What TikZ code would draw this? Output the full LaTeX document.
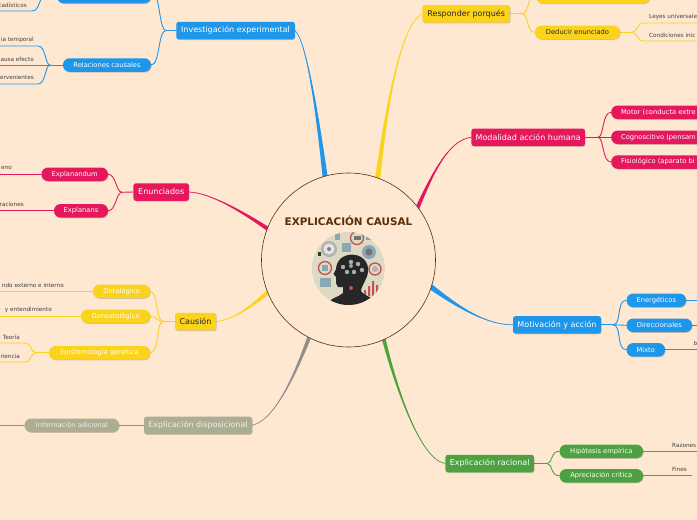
\documentclass[tikz,border=0pt]{standalone}
\usepackage{fontspec}
\setmainfont{DejaVu Sans}
\usetikzlibrary{calc,backgrounds,shadows}
\definecolor{bgc}{HTML}{FEE8D2}
\definecolor{bluec}{HTML}{1E96EA}
\definecolor{yelc}{HTML}{FBD31B}
\definecolor{pinkc}{HTML}{E5185E}
\definecolor{greenc}{HTML}{4CA240}
\definecolor{olivec}{HTML}{ADAD93}
\definecolor{grayc}{HTML}{8F8F8F}
\definecolor{brownc}{HTML}{5A2E08}
\definecolor{slatec}{HTML}{8AA8B4}
\definecolor{redc}{HTML}{C8514F}
\definecolor{beigec}{HTML}{DCD9C5}
\tikzset{
  shade1/.style={drop shadow={shadow xshift=0.6pt,shadow yshift=-0.8pt,opacity=.18,fill=black}},
  main/.style={draw=none,fill=#1,rounded corners=2.5pt,inner sep=0pt,font=\fontsize{8}{10}\selectfont,text=white,shade1,minimum height=17.5pt},
  sub/.style={draw=none,fill=#1,rounded corners=6.5pt,inner sep=0pt,font=\fontsize{6.7}{8}\selectfont,text=white,shade1,minimum height=13.5pt},
  subtext/.style={font=\fontsize{6.7}{8}\selectfont,text=white,inner sep=0pt,anchor=west},
  leaf/.style={font=\fontsize{5.7}{6}\selectfont,text=black!75,inner sep=0pt},
  link/.style={draw=#1,line width=.9pt,line cap=round},
}
\newcommand{\taper}[6]{%
  \fill[#1] ($(#2)+#3$) .. controls ($#4+0.45*#3$) and #5 .. (#6) .. controls #5 and ($#4-0.45*#3$) .. ($(#2)-#3$) -- cycle;
  \draw[#1,line width=.7pt] (#2) .. controls #4 and #5 .. (#6);}
\begin{document}
\begin{tikzpicture}[x=1pt,y=-1pt]
\useasboundingbox (0,0) rectangle (697,520);
% root
\node[circle,draw=brownc,line width=.6pt,fill=bgc,minimum size=174pt,inner sep=0pt] (root) at (348.5,260) {};
\node[font=\fontsize{10.4}{11}\selectfont\bfseries,text=brownc,inner sep=0pt] (title) at (348.5,221) {EXPLICACIÓN CAUSAL};
% picture
\begin{scope}
\clip (348.5,268.5) circle (36.5);
\fill[beigec] (348.5,268.5) circle (36.5);
\fill[gray!60] (329,249) circle (8); \fill[white!80!gray] (329,249) circle (5.5); \fill[gray] (329,249) circle (2);
\draw[redc,line width=1.3pt] (357,238) circle (6.5);\fill[black!55] (353.5,236) rectangle (360.5,240);
\fill[slatec] (369,252) circle (7);\fill[black!55] (369,252) circle (3.5);
\fill[slatec] (342,243) rectangle (351,252);
\fill[slatec] (335,233) rectangle (340,240);
\fill[slatec] (366,232) rectangle (374,240);
\draw[redc,line width=1.3pt] (325,268) circle (6.5);\fill[slatec] (322,265) rectangle (328,271);
\draw[redc,line width=1.3pt] (375,269) circle (6);\fill[gray!60] (375,269) circle (3);
\fill[slatec] (320,278) rectangle (331,287);
\fill[black!80] (318,252) rectangle (321,256);
\fill[redc] (364,290) rectangle (366,296) (368,286) rectangle (370,296) (372,281) rectangle (374,296) (376,285) rectangle (378,296);
\fill[black!85] (326,306) .. controls (330,297) and (338,298) .. (343,293) -- (343,287) -- (338,287) -- (336,283) -- (336,277) -- (333.5,274) -- (336,269)
  .. controls (337,250) and (366,250) .. (368,268) .. controls (369,278) and (362,283) .. (361,291) .. controls (365,297) and (375,297) .. (380,306) -- cycle;
\fill[gray!65] (351,262) circle (2.2) (343,267) circle (2.2) (358,264) circle (2.2) (347,272) circle (2.2) (354,272) circle (2.2) (362,270) circle (2.2);
\fill[slatec] (351,266) circle (2);
\fill[redc] (351,288) circle (2);
\end{scope}
% main branches
\node[main=bluec,minimum width=118.5pt] (inv) at (235.5,30.5) {Investigación experimental};
\node[sub=bluec,minimum width=94pt] (topb) at (104,-3.5) {};
\node[sub=bluec,minimum width=88pt] (rel) at (107,65) {Relaciones causales};
\node[main=pinkc,minimum width=55.5pt] (enu) at (161.2,192) {Enunciados};
\node[sub=pinkc,minimum width=66.5pt] (expd) at (74.7,174.3) {Explanandum};
\node[sub=pinkc,minimum width=54pt] (exps) at (81,210.8) {Explanans};
\node[main=yelc,minimum width=41pt,text=black!85] (cau) at (195.5,321.5) {Causión};
\node[sub=yelc,minimum width=57pt] (ont) at (121.5,291.3) {Ontológica};
\node[sub=yelc,minimum width=69pt] (gen) at (115.5,316.3) {Genostológica};
\node[sub=yelc,minimum width=101pt] (epi) at (99.5,352.8) {Epistemología genética};
\node[main=olivec,minimum width=108pt,text=white!80!olivec] (dis) at (198,425.3) {Explicación disposicional};
\node[sub=olivec,minimum width=94.5pt,text=white!80!olivec] (inf) at (71.8,425.3) {Información adicional};
\node[main=yelc,minimum width=87.5pt,text=black!85] (res) at (466.2,13.8) {Responder porqués};
\node[sub=yelc,minimum width=114pt] (topy) at (593,-3.5) {};
\node[sub=yelc,minimum width=85pt,text=black!85] (ded) at (577.5,32.3) {Deducir enunciado};
\node[main=pinkc,minimum width=113.5pt] (mod) at (528.2,137.3) {Modalidad acción humana};
\node[sub=pinkc,minimum width=110pt,anchor=west] (mot) at (611,112.3) {};
\node[sub=pinkc,minimum width=110pt,anchor=west] (cog) at (611,137.3) {};
\node[sub=pinkc,minimum width=110pt,anchor=west] (fis) at (611,162) {};
\node[subtext] (mott) at (621,112.3) {Motor (conducta extre};
\node[subtext] (cogt) at (621,137.3) {Cognoscitivo (pensam};
\node[subtext] (fist) at (621,162) {Fisiológico (aparato bi};
\node[main=bluec,minimum width=88pt] (mov) at (557,324.8) {Motivación y acción};
\node[sub=bluec,minimum width=59.5pt] (ene) at (656.3,300.3) {Energéticos};
\node[sub=bluec,minimum width=65.5pt] (dir) at (659.3,325.3) {Direccionales};
\node[sub=bluec,minimum width=38.5pt] (mix) at (645.8,349.8) {Mixto};
\node[main=greenc,minimum width=88.5pt] (rac) at (489.7,463.5) {Explicación racional};
\node[sub=greenc,minimum width=83.5pt] (hip) at (601.3,451.3) {Hipótesis empírica};
\node[sub=greenc,minimum width=83.5pt] (apr) at (601.3,475.8) {Apreciación crítica};
% leaves
\node[leaf,anchor=east] (l1) at (27,5) {cadísticos};
\node[leaf,anchor=east] (l2) at (34,40) {ia temporal};
\node[leaf,anchor=east] (l3) at (34,59) {ausa efecto};
\node[leaf,anchor=east] (l4) at (34,77) {ervenientes};
\node[leaf,anchor=east] (l5) at (12,168) {eno};
\node[leaf,anchor=east] (l6) at (24,204) {raciones};
\node[leaf,anchor=east] (l7) at (64,285) {ndo externo e interno};
\node[leaf,anchor=east] (l8) at (52,310) {y entendimiento};
\node[leaf,anchor=east] (l9) at (20,337) {Teoría};
\node[leaf,anchor=east] (l10) at (20,356) {riencia};
\node[leaf,anchor=west] (l11) at (649,17) {Leyes universale};
\node[leaf,anchor=west] (l12) at (649,35) {Condiciones inic};
\node[leaf,anchor=west] (l13) at (672,445) {Razones};
\node[leaf,anchor=west] (l14) at (672,469) {Fines};
\node[leaf,anchor=west] (l15) at (693.5,343) {b};
% free ends
\coordinate (e1) at (0,11); \coordinate (e2) at (0,46); \coordinate (e3) at (0,65); \coordinate (e4) at (0,84);
\coordinate (e5) at (0,174.3); \coordinate (e6) at (0,210.8); \coordinate (e7) at (0,291.3); \coordinate (e8) at (0,316.3);
\coordinate (e9) at (0,343); \coordinate (e10) at (0,362); \coordinate (e11) at (0,425.3);
\coordinate (e12) at (697,23); \coordinate (e13) at (697,41); \coordinate (e14) at (697,300.3); \coordinate (e15) at (697,325.3);
\coordinate (e16) at (697,349.8); \coordinate (e17) at (697,451.3); \coordinate (e18) at (692,475.8);
\coordinate (jr) at (50,65); \coordinate (ji) at (166,30.5); \coordinate (je) at (122,192.3); \coordinate (jc) at (163,321.5);
\coordinate (jep) at (36,352.8); \coordinate (jres) at (522,13.8); \coordinate (jded) at (632,32.3);
\coordinate (jm) at (598,137.3); \coordinate (jv) at (613,324.8); \coordinate (jrc) at (547,463.5);
\begin{scope}[on background layer]
\fill[bgc] (0,0) rectangle (697,520);
% tapered
\taper{bluec}{$(root)+(-23,-80)$}{(2.6,0)}{(317,110)}{(306,40)}{inv.east}
\taper{yelc}{$(root)+(29,-80)$}{(2.6,0)}{(386,110)}{(400,25)}{res.west}
\taper{pinkc}{$(root)+(68,-50)$}{(1.9,.9)}{(432,175)}{(448,140)}{mod.west}
\taper{bluec}{$(root)+(80,25)$}{(-1.2,2.6)}{(455,305)}{(485,325)}{mov.west}
\taper{greenc}{$(root)+(34,74)$}{(1.9,-.6)}{(395,385)}{(420,460)}{rac.west}
\taper{grayc}{$(root)+(-38,74)$}{(1.9,.8)}{(295,375)}{(275,420)}{dis.east}
\taper{yelc}{$(root)+(-78,30)$}{(1,2.1)}{(250,308)}{(232,320)}{cau.east}
\taper{pinkc}{$(root)+(-76,-28)$}{(-1,2)}{(240,210)}{(210,193)}{enu.east}
% hierarchy
\draw[link=bluec] (inv.west) -- (ji);
\draw[link=bluec] (ji) .. controls (160,30.5) and (160,3) .. (155,-6);
\draw[link=bluec] (ji) .. controls (158,30.5) and (160,65) .. (rel.east);
\draw[link=bluec] (rel.west) -- (jr);
\draw[link=bluec] (jr) .. controls (45,65) and (46,46) .. (38,46) -- (e2);
\draw[link=bluec] (jr) -- (e3);
\draw[link=bluec] (jr) .. controls (45,65) and (46,84) .. (38,84) -- (e4);
\draw[link=bluec] (42,-3) .. controls (38,5) and (38,11) .. (32,11) -- (e1);
\draw[link=pinkc] (enu.west) -- (je);
\draw[link=pinkc] (je) .. controls (116,192.3) and (116,174.3) .. (expd.east);
\draw[link=pinkc] (je) .. controls (116,192.3) and (116,210.8) .. (exps.east);
\draw[link=pinkc] (expd.west) -- (e5);
\draw[link=pinkc] (exps.west) -- (e6);
\draw[link=yelc] (cau.west) -- (jc);
\draw[link=yelc] (jc) .. controls (156,321.5) and (158,291.3) .. (ont.east);
\draw[link=yelc] (jc) .. controls (158,321.5) and (156,316.3) .. (gen.east);
\draw[link=yelc] (jc) .. controls (156,321.5) and (160,352.8) .. (epi.east);
\draw[link=yelc] (ont.west) -- (e7);
\draw[link=yelc] (gen.west) -- (e8);
\draw[link=yelc] (epi.west) -- (jep);
\draw[link=yelc] (jep) .. controls (30,352.8) and (32,343) .. (25,343) -- (e9);
\draw[link=yelc] (jep) .. controls (30,352.8) and (32,362) .. (25,362) -- (e10);
\draw[link=grayc] (dis.west) -- (inf.east);
\draw[link=grayc] (inf.west) -- (e11);
\draw[link=yelc] (res.east) -- (jres);
\draw[link=yelc] (jres) .. controls (528,13.8) and (528,0) .. (532,-4);
\draw[link=yelc] (jres) .. controls (529,13.8) and (526,32.3) .. (ded.west);
\draw[link=yelc] (ded.east) -- (jded);
\draw[link=yelc] (jded) .. controls (638,32.3) and (636,23) .. (644,23) -- (e12);
\draw[link=yelc] (jded) .. controls (638,32.3) and (636,41) .. (644,41) -- (e13);
\draw[link=pinkc] (mod.east) -- (jm);
\draw[link=pinkc] (jm) .. controls (604,137.3) and (602,112.3) .. (mot.west);
\draw[link=pinkc] (jm) -- (cog.west);
\draw[link=pinkc] (jm) .. controls (604,137.3) and (602,162) .. (fis.west);
\draw[link=bluec] (mov.east) -- (jv);
\draw[link=bluec] (jv) .. controls (622,324.8) and (616,300.3) .. (ene.west);
\draw[link=bluec] (jv) -- (dir.west);
\draw[link=bluec] (jv) .. controls (622,324.8) and (616,349.8) .. (mix.west);
\draw[link=bluec] (ene.east) -- (e14);
\draw[link=bluec] (dir.east) -- (e15);
\draw[link=bluec] (mix.east) -- (e16);
\draw[link=greenc] (rac.east) -- (jrc);
\draw[link=greenc] (jrc) .. controls (553,463.5) and (550,451.3) .. (hip.west);
\draw[link=greenc] (jrc) .. controls (553,463.5) and (550,475.8) .. (apr.west);
\draw[link=greenc] (hip.east) -- (e17);
\draw[link=greenc] (apr.east) -- (e18);
\end{scope}
\end{tikzpicture}
\end{document}
